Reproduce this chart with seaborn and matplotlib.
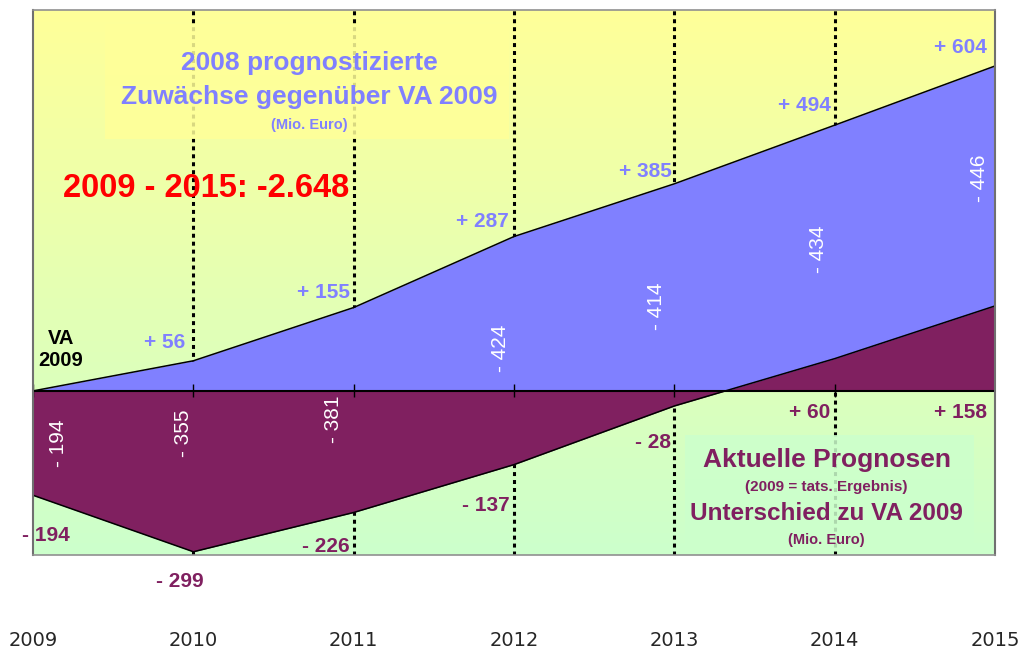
import numpy as np
import pandas as pd
import matplotlib
matplotlib.use("Agg")
import matplotlib.pyplot as plt
import matplotlib.colors as mcolors
from matplotlib.patches import Rectangle
import seaborn as sns

# ==================================================
# DATA
# ==================================================

years = [2009, 2010, 2011, 2012, 2013, 2014, 2015]

# 2008 forecast growth vs. VA 2009 (Mio. Euro)
plan_2008 = [0, 56, 155, 287, 385, 494, 604]

# current forecast, difference to VA 2009 (Mio. Euro)
current = [-194, -299, -226, -137, -28, 60, 158]

# gap between both (Mio. Euro)
difference = [-194, -355, -381, -424, -414, -434, -446]

year_labels = ["2009", "2010", "2011", "2012", "2013", "2014", "2015"]

# label offsets in pixels (dx, dy)
plan_offsets = [(0, 0), (-8, 18), (-4, 15), (-5, 15), (-3, 12), (-4, 20), (-8, 18)]
current_offsets = [(37, -40), (10, -30), (-4, -34), (-4, -41), (-3, -37), (-4, -54), (-8, -107)]
diff_offsets = [(25, 0), (-10, 23), (-20, -9), (-14, 2), (-18, -11), (-16, -7), (-16, 8)]

BLUE = "#8080FF"
PURPLE = "#802060"
PX = 0.72  # points per pixel at dpi 100


def sign_label(v):
    if v > 0:
        return f"+ {v}"
    return f"- {abs(v)}"


df = pd.DataFrame({"year": years, "plan": plan_2008, "current": current, "diff": difference})

sns.set_theme(style="white")
plt.rcParams["font.family"] = ["Liberation Sans", "DejaVu Sans"]

fig = plt.figure(figsize=(10.23, 6.55), dpi=100)
ax = fig.add_axes([0.0323, 0.1527, 0.9404, 0.8320])

x0, x1 = years[0], years[-1]
y0, y1 = -305, 708
ax.set_xlim(x0, x1)
ax.set_ylim(y0, y1)

# ==================================================
# BACKGROUND GRADIENT
# ==================================================

cmap = mcolors.LinearSegmentedColormap.from_list("bg", ["#CCFFCC", "#FFFF99"])
grad = np.linspace(0, 1, 256).reshape(-1, 1)
ax.imshow(grad, extent=[x0, x1, y0, y1], origin="lower", aspect="auto",
          cmap=cmap, zorder=0)

# ==================================================
# GRID LINES
# ==================================================

ax.vlines(years[1:-1], y0, y1, colors="black", linewidth=2.2,
          linestyles=(0, (1.3, 1.3)), zorder=1)

# text boxes (semi transparent, over the grid)
ax.add_patch(Rectangle((0.075, 0.764), 0.42, 0.21, transform=ax.transAxes,
                       facecolor="#FFFF99", edgecolor="none", alpha=0.85, zorder=1.5))
ax.add_patch(Rectangle((0.678, 0.01), 0.30, 0.21, transform=ax.transAxes,
                       facecolor="#CCFFCC", edgecolor="none", alpha=0.85, zorder=1.5))

# ==================================================
# AREAS
# ==================================================

ax.fill_between(df["year"], 0, df["plan"], color=BLUE, linewidth=0, zorder=2)
ax.fill_between(df["year"], 0, df["current"], color=PURPLE, linewidth=0, zorder=3)

sns.lineplot(data=df, x="year", y="plan", color="black", linewidth=1.1, ax=ax, zorder=4)
sns.lineplot(data=df, x="year", y="current", color="black", linewidth=1.1, ax=ax, zorder=4)
ax.vlines(years[0], current[0], 0, colors="black", linewidth=1.1, zorder=4)
ax.axhline(0, color="black", linewidth=1.5, zorder=4)
ax.vlines(years, -12, 12, colors="black", linewidth=1, zorder=4)

# ==================================================
# VALUE LABELS
# ==================================================

for yr, v, (dx, dy) in zip(years, plan_2008, plan_offsets):
    if v == 0:
        continue
    ax.annotate(sign_label(v), (yr, v), xytext=(dx * PX, dy * PX),
                textcoords="offset points", ha="right", va="center",
                fontsize=15, fontweight="bold", color=BLUE, zorder=5)

for yr, v, (dx, dy) in zip(years, current, current_offsets):
    ax.annotate(sign_label(v), (yr, v), xytext=(dx * PX, dy * PX),
                textcoords="offset points", ha="right", va="center",
                fontsize=15, fontweight="bold", color=PURPLE, zorder=5)

for yr, p, c, d, (dx, dy) in zip(years, plan_2008, current, difference, diff_offsets):
    ax.annotate(sign_label(d), (yr, (p + c) / 2), xytext=(dx * PX, dy * PX),
                textcoords="offset points", ha="center", va="center",
                rotation=90, fontsize=15, color="white", zorder=5)

# ==================================================
# TEXT BLOCKS
# ==================================================

ax.text(0.287, 0.903, "2008 prognostizierte", transform=ax.transAxes,
        ha="center", va="center", fontsize=19, fontweight="bold", color=BLUE, zorder=5)
ax.text(0.287, 0.840, "Zuwächse gegenüber VA 2009", transform=ax.transAxes,
        ha="center", va="center", fontsize=19, fontweight="bold", color=BLUE, zorder=5)
ax.text(0.287, 0.789, "(Mio. Euro)", transform=ax.transAxes,
        ha="center", va="center", fontsize=10.5, fontweight="bold", color=BLUE, zorder=5)

total = sum(difference)
total_txt = f"{total:,}".replace(",", ".")
ax.text(0.180, 0.673, f"{years[0]} - {years[-1]}: {total_txt}", transform=ax.transAxes,
        ha="center", va="center", fontsize=23.5, fontweight="bold", color="#FF0000", zorder=5)

ax.text(0.029, 0.398, "VA", transform=ax.transAxes, ha="center", va="center",
        fontsize=14.5, fontweight="bold", color="black", zorder=5)
ax.text(0.029, 0.356, "2009", transform=ax.transAxes, ha="center", va="center",
        fontsize=14.5, fontweight="bold", color="black", zorder=5)

ax.text(0.825, 0.174, "Aktuelle Prognosen", transform=ax.transAxes,
        ha="center", va="center", fontsize=19, fontweight="bold", color=PURPLE, zorder=5)
ax.text(0.825, 0.125, "(2009 = tats. Ergebnis)", transform=ax.transAxes,
        ha="center", va="center", fontsize=11, fontweight="bold", color=PURPLE, zorder=5)
ax.text(0.825, 0.077, "Unterschied zu VA 2009", transform=ax.transAxes,
        ha="center", va="center", fontsize=17.5, fontweight="bold", color=PURPLE, zorder=5)
ax.text(0.825, 0.028, "(Mio. Euro)", transform=ax.transAxes,
        ha="center", va="center", fontsize=10.5, fontweight="bold", color=PURPLE, zorder=5)

# ==================================================
# AXES
# ==================================================

ax.set_xticks(years)
ax.set_xticklabels(year_labels, fontsize=14, family=["DejaVu Sans"])
ax.tick_params(axis="x", length=0, pad=55)
ax.set_yticks([])
ax.set_xlabel("")
ax.set_ylabel("")

for side in ["top", "bottom"]:
    ax.spines[side].set_color("#909090")
    ax.spines[side].set_linewidth(1.2)
for side in ["left", "right"]:
    ax.spines[side].set_color("#707070")
    ax.spines[side].set_linewidth(1.5)
    ax.spines[side].set_linestyle((0, (2, 1)))
for s in ax.spines.values():
    s.set_zorder(6)

fig.savefig("out.png", dpi=100)
